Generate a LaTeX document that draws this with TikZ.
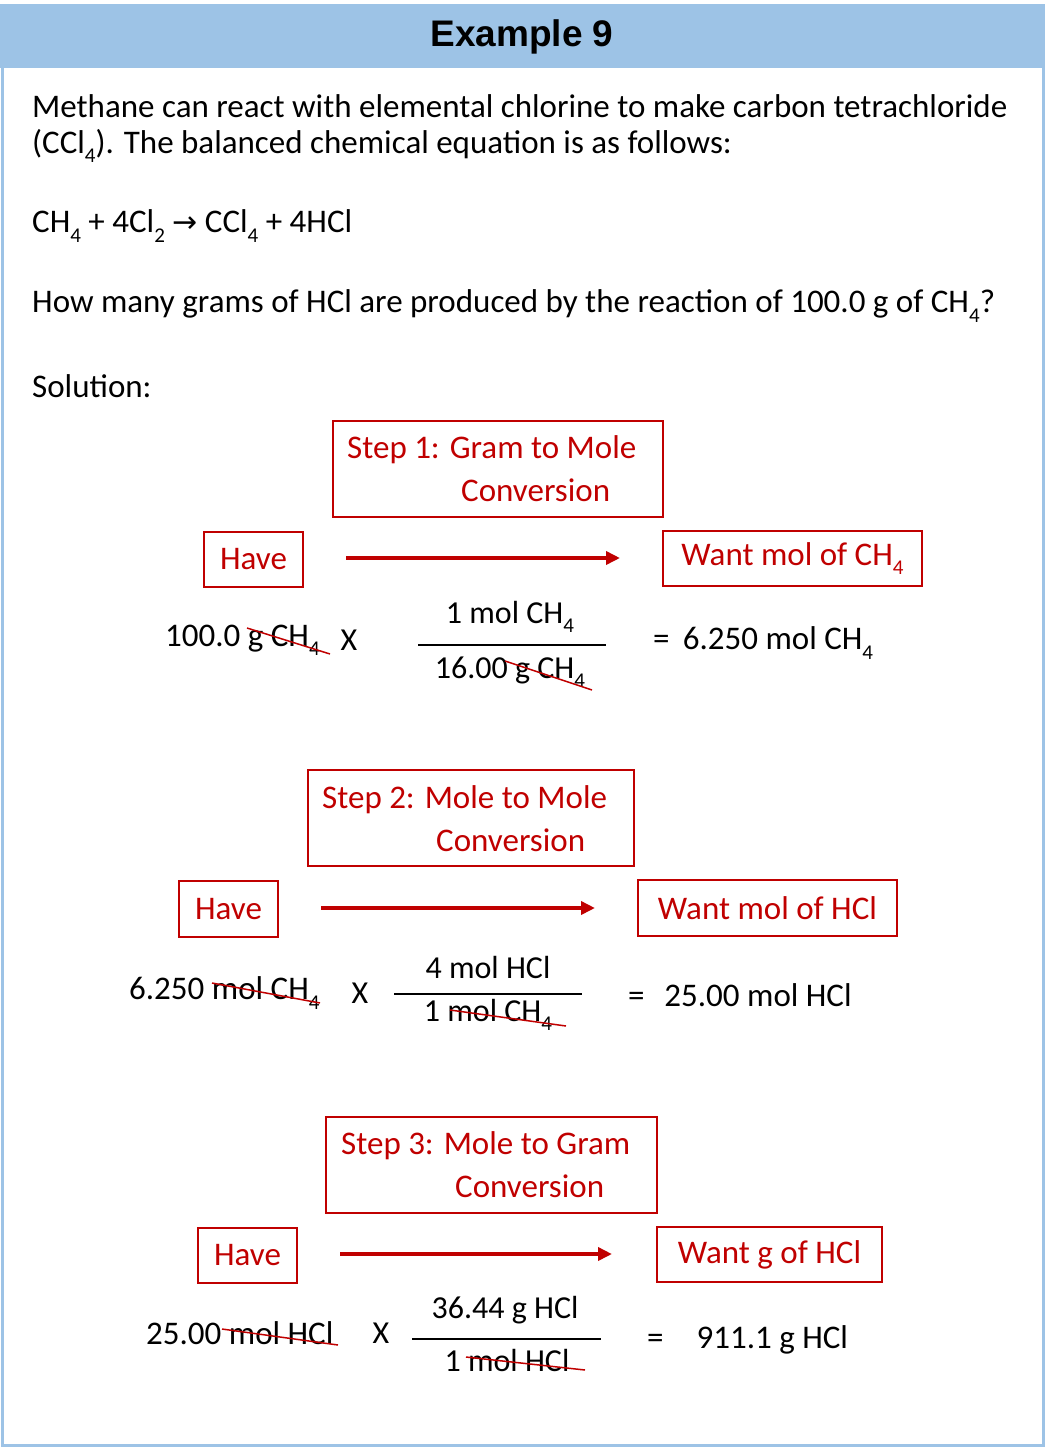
\documentclass[tikz,border=0pt]{standalone}
\usepackage{fontspec}
\setmainfont{Carlito}
\newfontfamily\titlefont{Liberation Sans}
\newfontfamily\arrfont{DejaVu Sans}
\usetikzlibrary{arrows.meta}
\definecolor{dred}{RGB}{192,0,0}
\definecolor{tblue}{RGB}{157,195,230}
\newcommand{\subs}[1]{\raisebox{-0.28em}{\fontsize{21}{24}\selectfont #1}}
\tikzset{
 txt/.style={anchor=west,inner sep=0pt,font=\fontsize{33}{36}\selectfont},
 ctxt/.style={inner sep=0pt,font=\fontsize{32}{36}\selectfont},
 rtxt/.style={anchor=west,inner sep=0pt,text=dred,font=\fontsize{33}{36}\selectfont},
 stepbox/.style={draw=dred,line width=1.5pt,inner sep=0pt},
 redbox/.style={draw=dred,line width=1.5pt,text=dred,inner sep=0pt,font=\fontsize{33}{36}\selectfont},
 redarr/.style={dred,line width=4pt,-{Triangle[length=14pt,width=13pt]}},
 frac/.style={line width=2.2pt},
 strike/.style={dred,line width=1.5pt}
}
\begin{document}
\begin{tikzpicture}[x=1pt,y=-1pt]
\useasboundingbox (0,0) rectangle (1045,1447);
\fill[tblue] (0,4) rectangle (1045,68);
\draw[tblue,line width=3pt] (2,66) -- (2,1445) -- (1043,1445) -- (1043,66);
\node[inner sep=0pt,font=\titlefont\bfseries\fontsize{37}{40}\selectfont] (title) at (522,37) {Example 9};
\node[txt] (t1) at (32,106) {Methane can react with elemental chlorine to make carbon tetrachloride};
\node[txt] (t2) at (32,146) {(CCl\subs{4}). The balanced chemical equation is as follows:};
\node[txt] (t3) at (32,226) {CH\subs{4} + 4Cl\subs{2} {\arrfont\fontsize{30}{30}\selectfont →} CCl\subs{4} + 4HCl};
\node[txt] (t4) at (32,306) {How many grams of HCl are produced by the reaction of 100.0 g of CH\subs{4}?};
\node[txt] (t5) at (32,386) {Solution:};

% Step 1
\node[stepbox,minimum width=330pt,minimum height=96pt] (s1) at (498,469) {};
\node[rtxt] (s1a) at (347,450) {Step 1: Gram to Mole};
\node[rtxt] (s1b) at (461,490) {Conversion};
\node[redbox,minimum width=99pt,minimum height=55pt] (h1) at (253.5,559.5) {Have};
\node[redbox,minimum width=259pt,minimum height=55pt] (w1) at (792.5,558.5) {Want mol of CH\subs{4}};
\coordinate (a1s) at (346,558); \coordinate (a1e) at (620,558);
\draw[redarr] (a1s) -- (a1e);
\node[txt] (l1) at (165,640) {100.0 g CH\subs{4}};
\node[ctxt] (x1) at (349,640) {X};
\node[ctxt] (n1) at (510,617) {1 mol CH\subs{4}};
\node[ctxt] (d1) at (510,672) {16.00 g CH\subs{4}};
\coordinate (f1a) at (418,645); \coordinate (f1b) at (606,645);
\draw[frac] (f1a) -- (f1b);
\node[txt] (r1) at (653,643) {=\hspace{0.4em}6.250 mol CH\subs{4}};
\coordinate (k1a) at (247,628); \coordinate (k1b) at (330,654);
\draw[strike] (k1a) -- (k1b);
\coordinate (k2a) at (505,661); \coordinate (k2b) at (592,690);
\draw[strike] (k2a) -- (k2b);

% Step 2
\node[stepbox,minimum width=326pt,minimum height=96pt] (s2) at (471,818) {};
\node[rtxt] (s2a) at (322,800) {Step 2: Mole to Mole};
\node[rtxt] (s2b) at (436,840) {Conversion};
\node[redbox,minimum width=99pt,minimum height=56pt] (h2) at (228.5,909) {Have};
\node[redbox,minimum width=259pt,minimum height=56pt] (w2) at (767.5,908) {Want mol of HCl};
\coordinate (a2s) at (321,908); \coordinate (a2e) at (595,908);
\draw[redarr] (a2s) -- (a2e);
\node[txt] (l2) at (129,993) {6.250 mol CH\subs{4}};
\node[ctxt] (x2) at (360,993) {X};
\node[ctxt] (n2) at (488,967) {4 mol HCl};
\node[ctxt] (d2) at (488,1015) {1 mol CH\subs{4}};
\coordinate (f2a) at (394,994); \coordinate (f2b) at (582,994);
\draw[frac] (f2a) -- (f2b);
\node[txt] (r2) at (628,995) {=\hspace{0.6em}25.00 mol HCl};
\coordinate (k3a) at (212,983); \coordinate (k3b) at (320,1003);
\draw[strike] (k3a) -- (k3b);
\coordinate (k4a) at (450,1010); \coordinate (k4b) at (566,1026);
\draw[strike] (k4a) -- (k4b);

% Step 3
\node[stepbox,minimum width=331pt,minimum height=96pt] (s3) at (491.5,1165) {};
\node[rtxt] (s3a) at (341,1146) {Step 3: Mole to Gram};
\node[rtxt] (s3b) at (455,1186) {Conversion};
\node[redbox,minimum width=99pt,minimum height=55pt] (h3) at (247.5,1255.5) {Have};
\node[redbox,minimum width=225pt,minimum height=55pt] (w3) at (769.5,1254.5) {Want g of HCl};
\coordinate (a3s) at (340,1254); \coordinate (a3e) at (612,1254);
\draw[redarr] (a3s) -- (a3e);
\node[txt] (l3) at (146,1333) {25.00 mol HCl};
\node[ctxt] (x3) at (381,1333) {X};
\node[ctxt] (n3) at (505,1310) {36.44 g HCl};
\node[ctxt] (d3) at (507,1360) {1 mol HCl};
\coordinate (f3a) at (412,1339); \coordinate (f3b) at (601,1339);
\draw[frac] (f3a) -- (f3b);
\node[txt] (r3) at (647,1340) {=\hspace{1em}911.1 g HCl};
\coordinate (k5a) at (222,1329); \coordinate (k5b) at (338,1345);
\draw[strike] (k5a) -- (k5b);
\coordinate (k6a) at (466,1357); \coordinate (k6b) at (585,1370);
\draw[strike] (k6a) -- (k6b);
\end{tikzpicture}
\end{document}
